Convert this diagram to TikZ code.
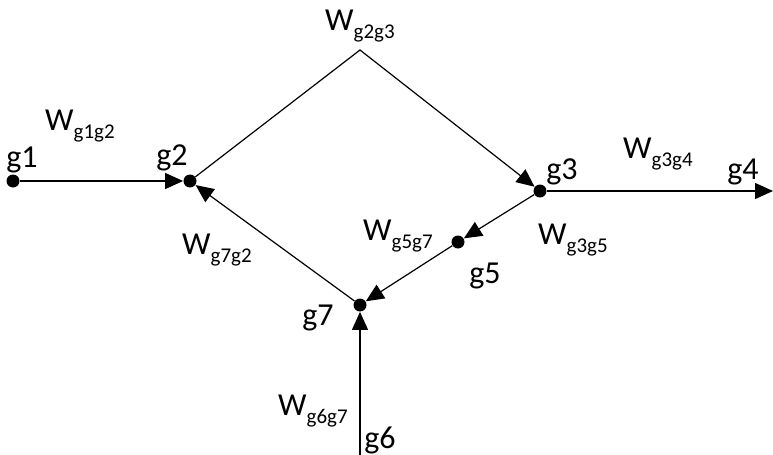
\documentclass[tikz,border=0pt]{standalone}
\usepackage{fontspec}
\setmainfont{Carlito}
\usetikzlibrary{arrows.meta}
\newcommand{\wsub}[1]{W\raisebox{-0.5ex}{\fontsize{10.5}{12}\selectfont #1}}

\begin{document}
\begin{tikzpicture}[x=0.5pt,y=-0.5pt,
  font=\fontsize{16}{18}\selectfont,
  dot/.style={circle,fill=black,inner sep=0pt,minimum size=6.5pt},
  wire/.style={line width=0.6pt},
  arr/.style={wire,-{Triangle[length=9pt,width=8pt]}}]
\useasboundingbox (0,0) rectangle (773,455);

% vertices
\node[dot] (g1) at (13,181) {};
\node[dot] (g2) at (190,181) {};
\node[dot] (g3) at (540,191) {};
\node[dot] (g5) at (458,242) {};
\node[dot] (g7) at (360,305) {};
\coordinate (top) at (360,50);
\coordinate (g4end) at (773,191);
\coordinate (g6end) at (360,455);

% edges
\draw[arr] (g1) -- (g2);
\draw[arr] (g2) -- (top) -- (g3);
\draw[arr] (g3) -- (g4end);
\draw[arr] (g3) -- (g5);
\draw[arr] (g5) -- (g7);
\draw[arr] (g7) -- (g2);
\draw[arr] (g6end) -- (g7);

% names
\node (n1) at (22,160) {g1};
\node (n2) at (172,158) {g2};
\node (n3) at (562,172) {g3};
\node (n4) at (743,172) {g4};
\node (n5) at (485,276) {g5};
\node (n6) at (380,440) {g6};
\node (n7) at (318,318) {g7};

% weights
\node (w12) at (80,126) {\wsub{g1g2}};
\node (w23) at (360,26) {\wsub{g2g3}};
\node (w34) at (658,154) {\wsub{g3g4}};
\node (w35) at (573,240) {\wsub{g3g5}};
\node (w57) at (398,236) {\wsub{g5g7}};
\node (w72) at (217,250) {\wsub{g7g2}};
\node (w67) at (313,411) {\wsub{g6g7}};

\end{tikzpicture}
\end{document}
